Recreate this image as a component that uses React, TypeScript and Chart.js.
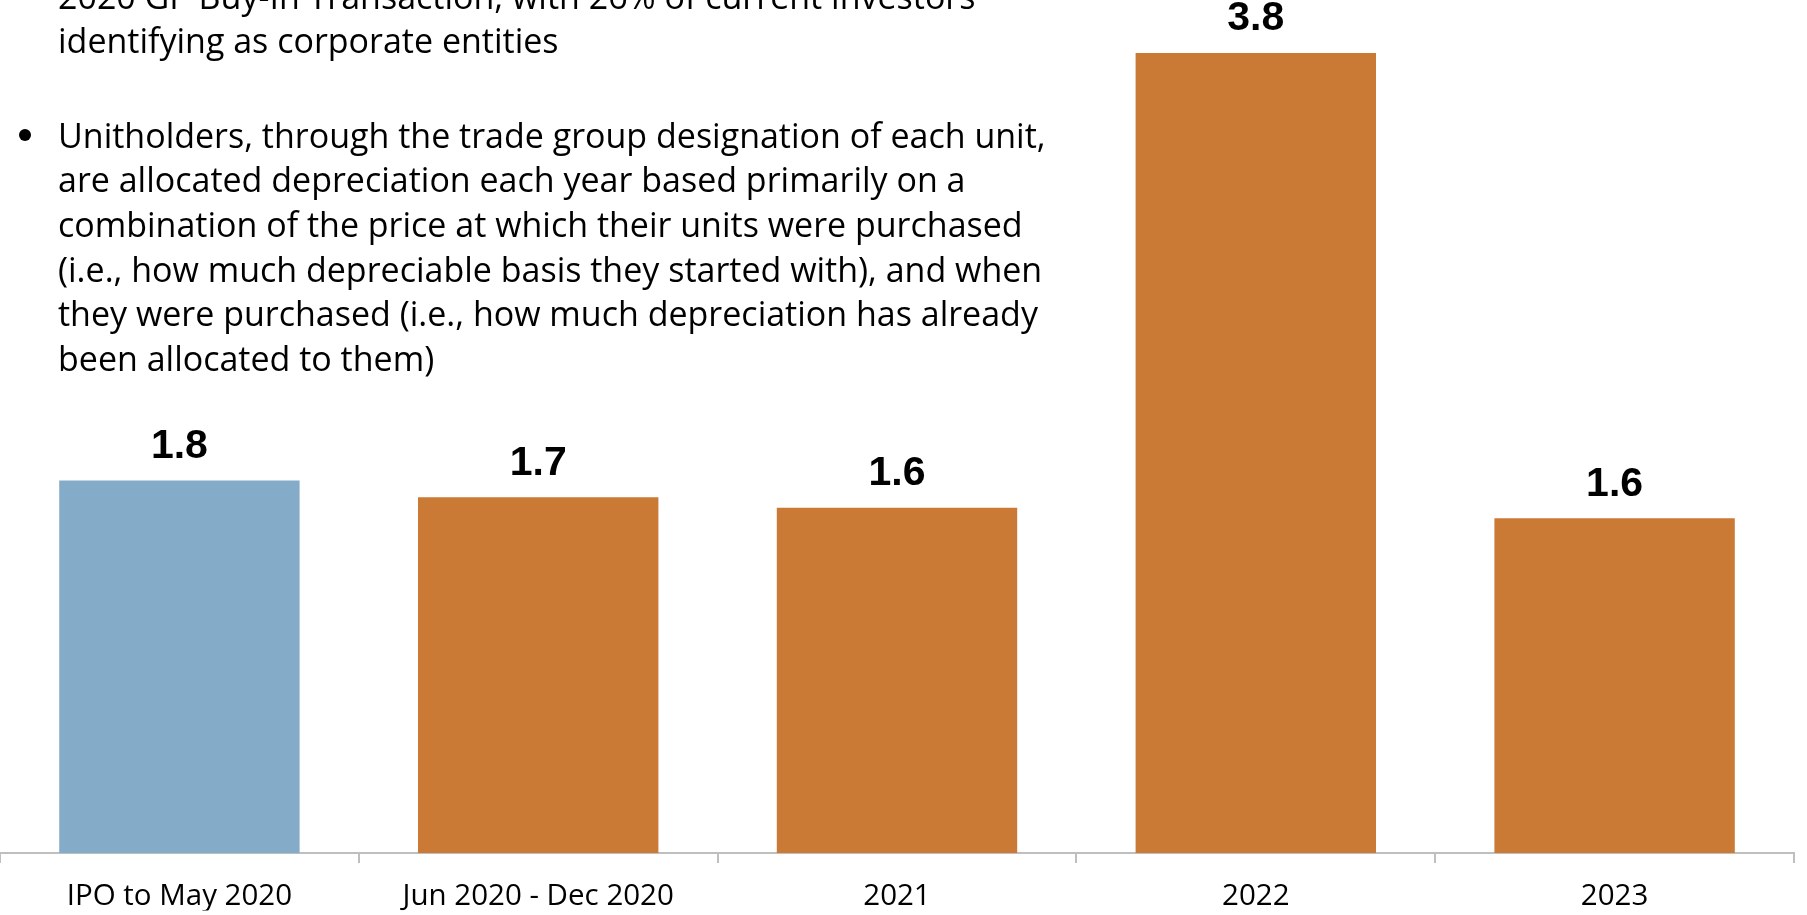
import React, { useEffect, useRef } from "react";
import { Chart, registerables } from "chart.js";

Chart.register(...registerables);

const categories = ["IPO to May 2020", "Jun 2020 - Dec 2020", "2021", "2022", "2023"];
const values = [1.77, 1.69, 1.64, 3.8, 1.59];
const barColors = ["#84ACC8", "#CB7A36", "#CB7A36", "#CB7A36", "#CB7A36"];
const bulletOneLines = [
  "2020 GP Buy-In Transaction, with 26% of current investors",
  "identifying as corporate entities",
];
const bulletTwoLines = [
  "Unitholders, through the trade group designation of each unit,",
  "are allocated depreciation each year based primarily on a",
  "combination of the price at which their units were purchased",
  "(i.e., how much depreciable basis they started with), and when",
  "they were purchased (i.e., how much depreciation has already",
  "been allocated to them)",
];

const W = 1807;
const H = 915;
const TEXT_FONT = "'Open Sans', 'Noto Sans', sans-serif";
const LINE_H = 44.7;

const valueLabels = {
  id: "valueLabels",
  afterDatasetsDraw(chart: any) {
    const ctx = chart.ctx;
    const meta = chart.getDatasetMeta(0);
    ctx.save();
    ctx.font = "bold 41px 'Liberation Sans', Arial, sans-serif";
    ctx.fillStyle = "#000000";
    ctx.textAlign = "center";
    ctx.textBaseline = "middle";
    meta.data.forEach((bar: any, i: number) => {
      ctx.fillText(values[i].toFixed(1), bar.x, bar.y - 34);
    });
    ctx.restore();
  },
};

function TextBlock({ lines, top, bullet }: { lines: string[]; top: number; bullet: boolean }) {
  return (
    <div style={{ position: "absolute", left: 0, top, width: 1200 }}>
      {bullet && (
        <div
          style={{
            position: "absolute",
            left: 19,
            top: LINE_H / 2 - 6,
            width: 12,
            height: 12,
            borderRadius: 6,
            background: "#000",
          }}
        />
      )}
      {lines.map((l, i) => (
        <div
          key={i}
          style={{
            position: "absolute",
            left: 58,
            top: i * LINE_H,
            lineHeight: LINE_H + "px",
            fontSize: 34,
            fontFamily: TEXT_FONT,
            color: "#000",
            whiteSpace: "nowrap",
          }}
        >
          {l}
        </div>
      ))}
    </div>
  );
}

export default function App() {
  const canvasRef = useRef<HTMLCanvasElement | null>(null);

  useEffect(() => {
    if (!canvasRef.current) return;
    const chart = new Chart(canvasRef.current, {
      type: "bar",
      data: {
        labels: categories,
        datasets: [
          {
            data: values,
            backgroundColor: barColors,
            borderWidth: 0,
            barPercentage: 0.67,
            categoryPercentage: 1,
          },
        ],
      },
      options: {
        animation: false,
        responsive: false,
        maintainAspectRatio: false,
        layout: { padding: { top: 11, right: 13, left: 0, bottom: 4.6 } },
        plugins: { legend: { display: false }, tooltip: { enabled: false } },
        scales: {
          y: { display: false, min: 0, max: 4 },
          x: {
            afterFit(scale: any) {
              scale.height = 57.4;
            },
            grid: {
              display: true,
              drawOnChartArea: false,
              drawTicks: true,
              tickLength: 10,
              color: "#BFBFBF",
              lineWidth: 2,
              offset: true,
            },
            border: { display: true, color: "#BFBFBF", width: 2 },
            ticks: {
              color: "#000000",
              padding: 16,
              font: { size: 29.5, family: TEXT_FONT },
              maxRotation: 0,
              autoSkip: false,
            },
          },
        },
      },
      plugins: [valueLabels],
    });
    return () => chart.destroy();
  }, []);

  return (
    <div style={{ position: "fixed", left: 0, top: 0, width: W, height: H, background: "#fff", overflow: "hidden" }}>
      <canvas ref={canvasRef} width={W} height={H} style={{ position: "absolute", left: 0, top: 0, width: W, height: H }} />
      <TextBlock lines={bulletOneLines} top={-26.4} bullet={false} />
      <TextBlock lines={bulletTwoLines} top={112.5} bullet={true} />
    </div>
  );
}
